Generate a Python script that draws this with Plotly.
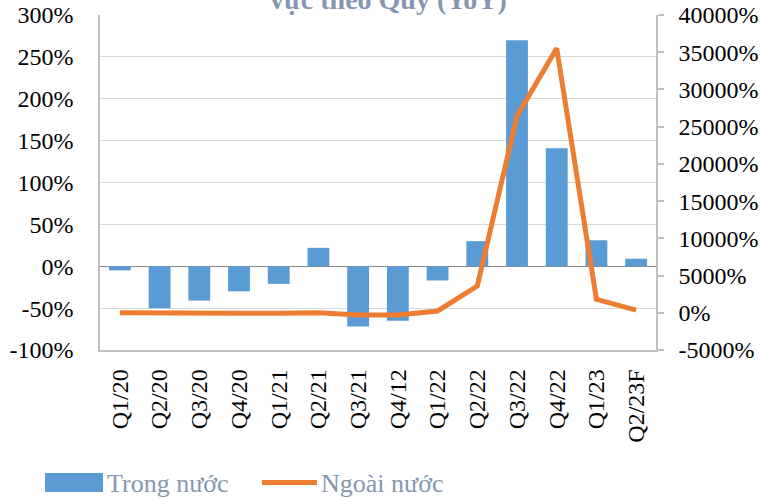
import plotly.graph_objects as go

categories = ["Q1/20", "Q2/20", "Q3/20", "Q4/20", "Q1/21", "Q2/21", "Q3/21",
              "Q4/12", "Q1/22", "Q2/22", "Q3/22", "Q4/22", "Q1/23", "Q2/23F"]
trong_nuoc = [-5, -50, -41, -30, -21, 22, -72, -65, -17, 30, 270, 141, 31, 9]
ngoai_nuoc = [0, -70, -70, -70, -70, 20, -300, -300, 240, 3590, 26440, 35530, 1800, 360]

left_ticks = [-100, -50, 0, 50, 100, 150, 200, 250, 300]
right_ticks = list(range(-5000, 40001, 5000))

FONT = "Liberation Serif"
BLUE = "#5B9BD5"
ORANGE = "#ED7D31"
TXT = "#8497B0"

W, H = 763, 499
L, R, T, B = 100, 107, 15, 149
pw, ph = W - L - R, H - T - B


def px(x):
    return (x - L) / pw


def py(y):
    return (H - B - y) / ph


fig = go.Figure()
fig.add_trace(go.Bar(x=categories, y=trong_nuoc, name="Trong nước",
                     marker=dict(color=BLUE, line=dict(width=0)), yaxis="y"))
fig.add_trace(go.Scatter(x=categories, y=ngoai_nuoc, name="Ngoài nước", mode="lines",
                         line=dict(color=ORANGE, width=5), yaxis="y2"))

fig.update_layout(
    width=W, height=H,
    margin=dict(l=L, r=R, t=T, b=B, autoexpand=False),
    paper_bgcolor="white", plot_bgcolor="white",
    showlegend=False,
    bargap=0.45,
    font=dict(family=FONT, size=24, color="black"),
    xaxis=dict(
        type="category", tickangle=-90, showgrid=False, automargin=False,
        showline=True, linecolor="#BFBFBF", linewidth=1.5, mirror=False,
        ticks="", tickfont=dict(family=FONT, size=24, color="black"),
        ticklabelstandoff=8,
    ),
    yaxis=dict(
        range=[-100, 300], tickvals=left_ticks, automargin=False,
        ticktext=[f"{v}%" for v in left_ticks],
        showgrid=True, gridcolor="#D9D9D9", gridwidth=1,
        zeroline=True, zerolinecolor="#878787", zerolinewidth=1.2,
        showline=True, linecolor="#BFBFBF", linewidth=1.5,
        ticks="", tickfont=dict(family=FONT, size=24, color="black"),
        ticklabelstandoff=20,
    ),
    yaxis2=dict(
        range=[-5000, 40000], tickvals=right_ticks, automargin=False,
        ticktext=[f"{v}%" for v in right_ticks],
        overlaying="y", side="right", showgrid=False, zeroline=False,
        showline=True, linecolor="#BFBFBF", linewidth=1.5,
        ticks="outside", ticklen=6, tickcolor="#BFBFBF", tickwidth=1.5,
        tickfont=dict(family=FONT, size=24, color="black"),
        ticklabelstandoff=10,
    ),
)

# Title (partially cut off at top, as in the reference)
fig.add_annotation(text="<b>vực theo Quý (YoY)</b>", xref="paper", yref="paper",
                   x=px(388), y=py(17), xanchor="center", yanchor="bottom",
                   showarrow=False, font=dict(family=FONT, size=28, color=TXT))

# Custom legend
fig.add_shape(type="rect", xref="paper", yref="paper",
              x0=px(45), x1=px(103), y0=py(492), y1=py(473),
              fillcolor=BLUE, line=dict(width=0))
fig.add_annotation(text="Trong nước", xref="paper", yref="paper",
                   x=px(105), y=py(483), xanchor="left", yanchor="middle",
                   showarrow=False, font=dict(family=FONT, size=26, color=TXT))
fig.add_shape(type="line", xref="paper", yref="paper",
              x0=px(262), x1=px(317), y0=py(482.5), y1=py(482.5),
              line=dict(color=ORANGE, width=5))
fig.add_annotation(text="Ngoài nước", xref="paper", yref="paper",
                   x=px(319), y=py(483), xanchor="left", yanchor="middle",
                   showarrow=False, font=dict(family=FONT, size=26, color=TXT))

fig.write_html("out.html", config={"displayModeBar": False},
               post_script="document.body.style.margin='0';document.body.style.overflow='hidden';")
